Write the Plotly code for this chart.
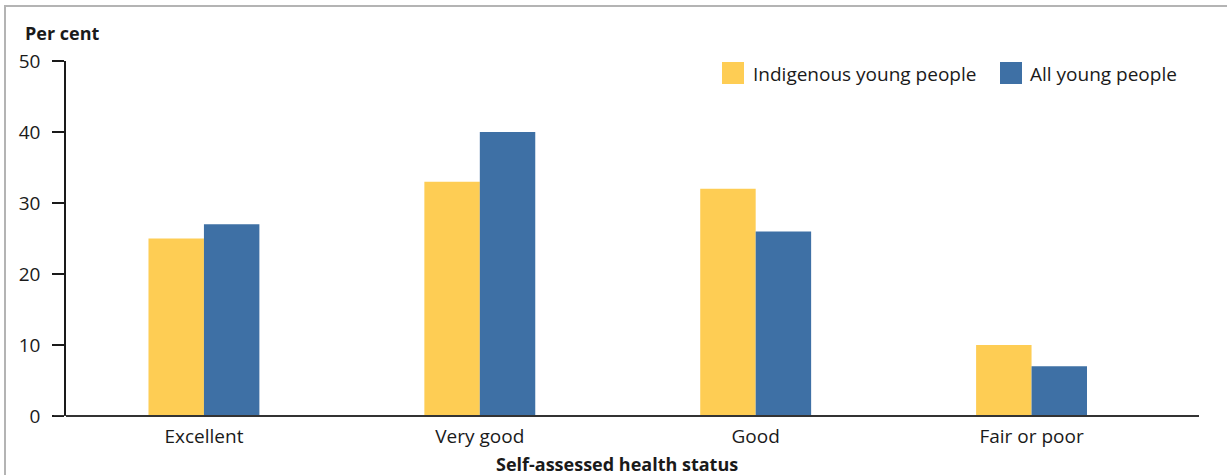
import plotly.graph_objects as go

categories = ["Excellent", "Very good", "Good", "Fair or poor"]
indigenous = [25, 33, 32, 10]
all_young = [27, 40, 26, 7]
series_names = ["Indigenous young people", "All young people"]
y_ticks = [0, 10, 20, 30, 40, 50]

YELLOW = "#FECD54"
BLUE = "#3E70A5"
TXT = "#1a1a1a"
FONT = "Open Sans"

W, H = 1227, 475
ML, MR, MT, MB = 66, 28, 61, 59
PW, PH = W - ML - MR, H - MT - MB

def px(x):
    return (x - ML) / PW

def py(y):
    return (H - MB - y) / PH

fig = go.Figure()
fig.add_trace(go.Bar(x=categories, y=indigenous, name=series_names[0],
                     marker=dict(color=YELLOW, line=dict(width=0)), showlegend=False))
fig.add_trace(go.Bar(x=categories, y=all_young, name=series_names[1],
                     marker=dict(color=BLUE, line=dict(width=0)), showlegend=False))

shapes = [
    # outer frame
    dict(type="rect", xref="paper", yref="paper", x0=px(5), x1=px(1260), y0=py(520), y1=py(6),
         line=dict(color="#B4B4B4", width=2), fillcolor="rgba(0,0,0,0)", layer="below"),
    # legend swatches
    dict(type="rect", xref="paper", yref="paper", x0=px(722), x1=px(744), y0=py(84), y1=py(62),
         line=dict(width=0), fillcolor=YELLOW),
    dict(type="rect", xref="paper", yref="paper", x0=px(1000), x1=px(1022), y0=py(84), y1=py(62),
         line=dict(width=0), fillcolor=BLUE),
]

annotations = [
    dict(text="<b>Per cent</b>", xref="paper", yref="paper", x=px(23), y=py(33),
         xanchor="left", yanchor="middle", showarrow=False, font=dict(size=18, color=TXT, family=FONT)),
    dict(text="<b>Self-assessed health status</b>", xref="paper", yref="paper", x=px(617), y=py(464),
         xanchor="center", yanchor="middle", showarrow=False, font=dict(size=18, color=TXT, family=FONT)),
    dict(text=series_names[0], xref="paper", yref="paper", x=px(751), y=py(74),
         xanchor="left", yanchor="middle", showarrow=False, font=dict(size=19, color=TXT, family=FONT)),
    dict(text=series_names[1], xref="paper", yref="paper", x=px(1028), y=py(74),
         xanchor="left", yanchor="middle", showarrow=False, font=dict(size=19, color=TXT, family=FONT)),
]

fig.update_layout(
    width=W, height=H,
    margin=dict(l=ML, r=MR, t=MT, b=MB),
    paper_bgcolor="white", plot_bgcolor="white",
    barmode="group", bargap=0.598, bargroupgap=0,
    font=dict(family=FONT, size=19, color=TXT),
    shapes=shapes, annotations=annotations,
    showlegend=False,
)
fig.update_xaxes(
    type="category", range=[-0.5, 3.607],
    showgrid=False, zeroline=False, showline=False, ticks="",
    ticklabelstandoff=7, tickfont=dict(size=19, color=TXT),
)
fig.update_yaxes(
    range=[0, 50], tickvals=y_ticks, ticktext=[str(v) for v in y_ticks],
    showgrid=False, zeroline=True, zerolinecolor="#333333", zerolinewidth=2,
    showline=True, linecolor="#1a1a1a", linewidth=1.5,
    ticks="outside", ticklen=12, tickcolor="#1a1a1a", tickwidth=1.5,
    ticklabelstandoff=8, tickfont=dict(size=19, color=TXT),
)
# extend baseline to the left of the y axis (under the tick marks)
fig.add_shape(type="line", xref="paper", yref="y", x0=px(54), x1=1, y0=0, y1=0,
              line=dict(color="#333333", width=2))

fig.write_html(
    "out.html",
    config={"displayModeBar": False},
    post_script="document.body.style.margin='0';document.body.style.padding='0';"
                "document.documentElement.style.overflow='hidden';",
)
